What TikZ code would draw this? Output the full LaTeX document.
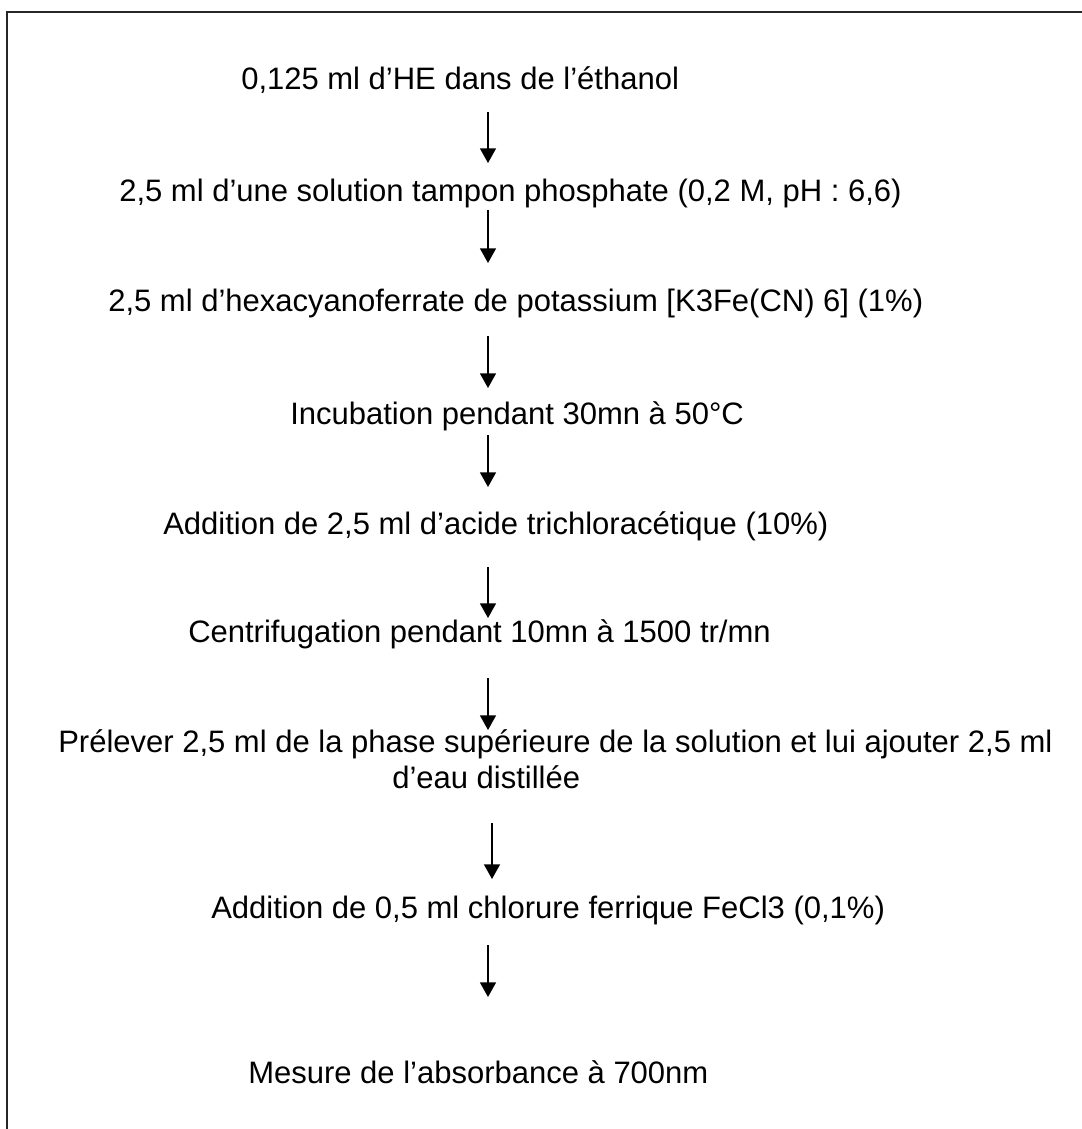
\documentclass[tikz,border=0pt]{standalone}
\usepackage{fontspec}
\setmainfont{Liberation Sans}
\usetikzlibrary{arrows.meta}
\tikzset{
  txt/.style={anchor=base west, inner sep=0pt, font=\fontsize{23.25}{27}\selectfont},
  arr/.style={line width=1.1pt, -{Triangle[width=12pt,length=11pt]}},
  frame/.style={line width=1.5pt, draw=black!85}
}
\begin{document}
\begin{tikzpicture}[x=0.75pt,y=-0.75pt]
\useasboundingbox (0,0) rectangle (1082,1129);
\draw[frame] (1082,12) -- (7,12) -- (7,1129);

\node[txt] (n1) at (241,89) {0,125 ml d’HE dans de l’éthanol};
\node[txt] (n2) at (119,201) {2,5 ml d’une solution tampon phosphate (0,2 M, pH : 6,6)};
\node[txt] (n3) at (108,311) {2,5 ml d’hexacyanoferrate de potassium [K3Fe(CN) 6] (1\%)};
\node[txt] (n4) at (290,424) {Incubation pendant 30mn à 50°C};
\node[txt] (n5) at (163,534) {Addition de 2,5 ml d’acide trichloracétique (10\%)};
\node[txt] (n6) at (188,642) {Centrifugation pendant 10mn à 1500 tr/mn};
\node[txt] (n7) at (58,752) {Prélever 2,5 ml de la phase supérieure de la solution et lui ajouter 2,5 ml};
\node[txt] (n7b) at (392,788) {d’eau distillée};
\node[txt] (n8) at (211,918) {Addition de 0,5 ml chlorure ferrique FeCl3 (0,1\%)};
\node[txt] (n9) at (248,1083) {Mesure de l’absorbance à 700nm};

\coordinate (a1s) at (488,112); \coordinate (a1e) at (488,163);
\coordinate (a2s) at (488,210); \coordinate (a2e) at (488,263);
\coordinate (a3s) at (488,336); \coordinate (a3e) at (488,388);
\coordinate (a4s) at (488,435); \coordinate (a4e) at (488,487);
\coordinate (a5s) at (488,567); \coordinate (a5e) at (488,618);
\coordinate (a6s) at (488,678); \coordinate (a6e) at (488,730);
\coordinate (a7s) at (492,823); \coordinate (a7e) at (492,879);
\coordinate (a8s) at (488,945); \coordinate (a8e) at (488,997);
\foreach \i in {1,...,8} { \draw[arr] (a\i s) -- (a\i e); }
\end{tikzpicture}
\end{document}
